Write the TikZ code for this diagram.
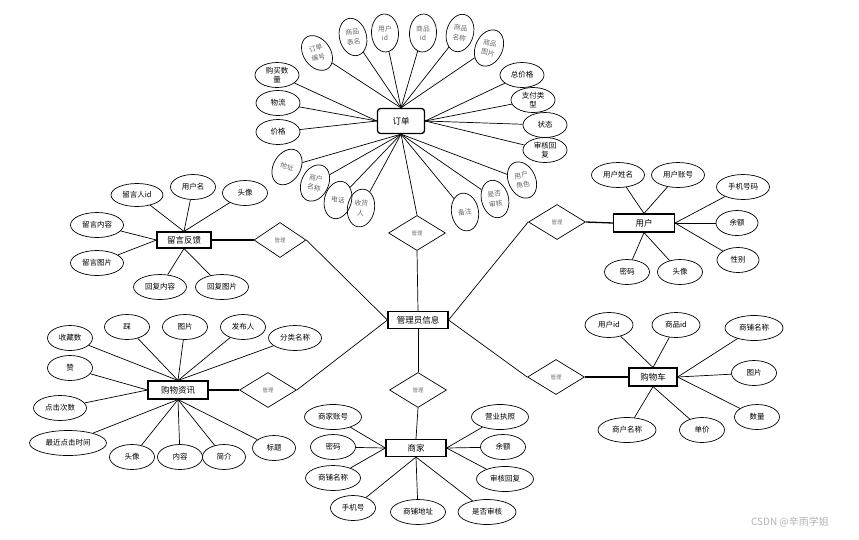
\documentclass[tikz,border=0pt]{standalone}
\usepackage{fontspec}
\setmainfont{Noto Sans CJK SC}
\usetikzlibrary{shapes.geometric}
\tikzset{
 ent/.style={draw, line width=1.1pt, minimum width=60, minimum height=18, inner sep=0, font=\fontsize{8.5}{10}\selectfont},
 attr/.style={ellipse, draw, line width=0.7pt, minimum width=45, minimum height=25, inner sep=0, font=\fontsize{7.5}{8.5}\selectfont, align=center},
 fan/.style={ellipse, draw, line width=0.7pt, minimum width=27, minimum height=38, inner sep=0},
 fantext/.style={inner sep=0, text=black!60, font=\fontsize{6.8}{9.5}\selectfont, align=center},
 rel/.style={diamond, draw, line width=0.7pt, minimum width=57, minimum height=35, inner sep=0, text=black!55, font=\fontsize{5.5}{6}\selectfont},
 conn/.style={line width=0.7pt},
 thk/.style={line width=1.3pt},
}
\begin{document}
\begin{tikzpicture}[x=1pt,y=-1pt]
\useasboundingbox (0,0) rectangle (859,539);
% ---------- 订单 ----------
\node[ent, line width=1.3pt, rounded corners=3, minimum width=47, minimum height=25] (dd) at (401,121) {订单};
\foreach \n/\p/\r/\tr/\t in {
  o1/{(317,53)}/35/16/{订单\\编号},
  o2/{(353,37)}/15/8/{商品\\表名},
  o3/{(385,33)}/3/0/{用户\\id},
  o4/{(423,33)}/-3/0/{商品\\id},
  o5/{(460,33)}/-15/-8/{商品\\名称},
  o6/{(489,48)}/-25/-12/{商品\\图片},
  o14/{(287,167)}/-30/-14/{地址},
  o15/{(315,183)}/-25/-12/{商户\\名称},
  o16/{(338,200)}/-15/-8/{电话},
  o17/{(361,208)}/-10/-5/{收货\\人},
  o18/{(465,212)}/10/5/{备注},
  o19/{(495,199)}/15/8/{是否\\审核},
  o20/{(522,180)}/25/12/{用户\\角色}}
{
  \node[fan, rotate=\r] (\n) at \p {};
  \node[fantext, rotate=\tr] (\n t) at (\n) {\t};
}
\node[attr, minimum width=44] (o7) at (277,75) {购买数\\量};
\node[attr, minimum width=44] (o8) at (278,103) {物流};
\node[attr, minimum width=44] (o9) at (278,132) {价格};
\node[attr, minimum width=44] (o10) at (522,75) {总价格};
\node[attr, minimum width=44] (o11) at (533,100) {支付类\\型};
\node[attr, minimum width=44] (o12) at (545,125) {状态};
\node[attr, minimum width=44] (o13) at (545,150) {审核回\\复};
\foreach \n in {o1,o2,o3,o4,o5,o6} \draw[conn] (\n) -- (dd.north);
\foreach \n in {o7,o8,o9} \draw[conn] (\n) -- (dd.west);
\foreach \n in {o10,o11,o12,o13} \draw[conn] (\n) -- (dd.east);
\foreach \n in {o14,o15,o16,o17,o18,o19,o20} \draw[conn] (\n) -- (dd.south);
\node[rel] (d1) at (417,233) {管理};
\draw[conn] (dd.south) -- (d1.north);
% ---------- 管理员信息 ----------
\node[ent, minimum height=17] (adm) at (418,320) {管理员信息};
\draw[conn] (d1.south) -- (adm.north);
% ---------- 留言反馈 ----------
\node[ent, minimum width=54, minimum height=16] (ly) at (184,240) {留言反馈};
\node[attr, minimum width=52, minimum height=23] (l1) at (137,195) {留言人id};
\node[attr] (l2) at (193,187) {用户名};
\node[attr] (l3) at (245,193) {头像};
\node[attr, minimum width=53] (l4) at (97,225) {留言内容};
\node[attr, minimum width=53] (l5) at (97,263) {留言图片};
\node[attr, minimum width=53] (l6) at (160,287) {回复内容};
\node[attr, minimum width=53] (l7) at (222,287) {回复图片};
\foreach \n in {l1,l2,l3} \draw[conn] (\n) -- (ly.north);
\foreach \n in {l4,l5} \draw[conn] (\n) -- (ly.west);
\foreach \n in {l6,l7} \draw[conn] (\n) -- (ly.south);
\node[rel, minimum width=52] (d2) at (280,240) {管理};
\draw[thk] (ly.east) -- (d2.west);
\draw[conn] (d2.east) -- (adm.west);
% ---------- 用户 ----------
\node[ent, minimum width=61] (yh) at (644,223) {用户};
\node[attr, minimum width=53] (u1) at (618,175) {用户姓名};
\node[attr, minimum width=53] (u2) at (678,175) {用户账号};
\node[attr, minimum width=53] (u3) at (743,187) {手机号码};
\node[attr, minimum width=42] (u4) at (737,223) {余额};
\node[attr, minimum width=42] (u5) at (738,260) {性别};
\node[attr] (u6) at (627,272) {密码};
\node[attr] (u7) at (680,272) {头像};
\foreach \n in {u1,u2} \draw[conn] (\n) -- (yh.north);
\foreach \n in {u3,u4,u5} \draw[conn] (\n) -- (yh.east);
\foreach \n in {u6,u7} \draw[conn] (\n) -- (yh.south);
\node[rel] (d3) at (557,222) {管理};
\draw[thk] (d3.east) -- (yh.west);
\draw[conn] (d3.west) -- (adm.east);
% ---------- 购物资讯 ----------
\node[ent] (zx) at (178,390) {购物资讯};
\node[attr] (z1) at (70,338) {收藏数};
\node[attr] (z2) at (70,368) {赞};
\node[attr] (z3) at (127,327) {踩};
\node[attr] (z4) at (185,327) {图片};
\node[attr] (z5) at (243,327) {发布人};
\node[attr, minimum width=53] (z6) at (295,338) {分类名称};
\node[attr, minimum width=53] (z7) at (60,408) {点击次数};
\node[attr, minimum width=77] (z8) at (68,443) {最近点击时间};
\node[attr] (z9) at (132,457) {头像};
\node[attr] (z10) at (180,457) {内容};
\node[attr, minimum width=43] (z11) at (224,457) {简介};
\node[attr, minimum width=43] (z12) at (274,448) {标题};
\foreach \n in {z1,z3,z4,z5,z6} \draw[conn] (\n) -- (zx.north);
\foreach \n in {z2,z7} \draw[conn] (\n) -- (zx.west);
\foreach \n in {z8,z9,z10,z11,z12} \draw[conn] (\n) -- (zx.south);
\node[rel] (d4) at (268,390) {管理};
\draw[thk] (zx.east) -- (d4.west);
\draw[conn] (d4.east) -- (adm.west);
% ---------- 商家 ----------
\node[rel] (d5) at (418,390) {管理};
\node[ent, minimum height=17] (sj) at (416,448) {商家};
\draw[conn] (adm.south) -- (d5.north);
\draw[conn] (d5.south) -- (sj.north);
\node[attr, minimum width=57] (s1) at (333,417) {商家账号};
\node[attr] (s2) at (333,447) {密码};
\node[attr, minimum width=55] (s3) at (333,478) {商铺名称};
\node[attr] (s4) at (353,508) {手机号};
\node[attr, minimum width=55] (s5) at (418,512) {商铺地址};
\node[attr, minimum width=58] (s6) at (487,512) {是否审核};
\node[attr, minimum width=57] (s7) at (500,417) {营业执照};
\node[attr] (s8) at (503,447) {余额};
\node[attr, minimum width=57] (s9) at (505,479) {审核回复};
\foreach \n in {s1,s2,s3} \draw[conn] (\n) -- (sj.west);
\foreach \n in {s4,s5,s6} \draw[conn] (\n) -- (sj.south);
\foreach \n in {s7,s8,s9} \draw[conn] (\n) -- (sj.east);
% ---------- 购物车 ----------
\node[ent, minimum width=48] (gc) at (653,377) {购物车};
\node[attr, minimum width=48] (c1) at (609,325) {用户id};
\node[attr, minimum width=48] (c2) at (676,325) {商品id};
\node[attr, minimum width=58] (c3) at (754,328) {商铺名称};
\node[attr] (c4) at (754,373) {图片};
\node[attr] (c5) at (757,417) {数量};
\node[attr, minimum width=58] (c6) at (627,430) {商户名称};
\node[attr] (c7) at (702,430) {单价};
\foreach \n in {c1,c2} \draw[conn] (\n) -- (gc.north);
\foreach \n in {c3,c4,c5} \draw[conn] (\n) -- (gc.east);
\foreach \n in {c6,c7} \draw[conn] (\n) -- (gc.south);
\node[rel] (d6) at (556,377) {管理};
\draw[conn] (adm.east) -- (d6.west);
\draw[thk] (d6.east) -- (gc.west);
% watermark
\node[text=black!30, font=\fontsize{10}{12}\selectfont] (wm) at (790,522) {CSDN @辛雨学姐};
\end{tikzpicture}
\end{document}
